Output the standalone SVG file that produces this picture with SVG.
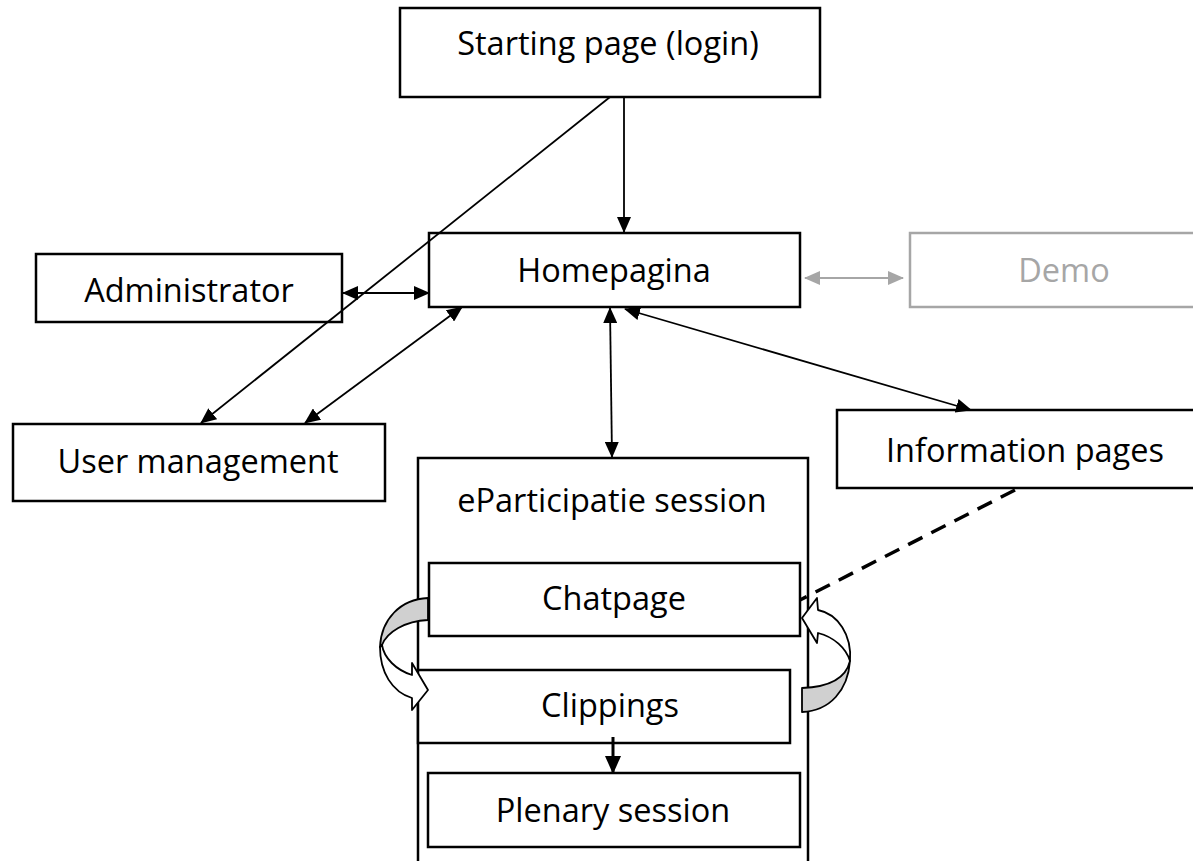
<svg xmlns="http://www.w3.org/2000/svg" width="1193" height="861" viewBox="0 0 1193 861">
<defs>
<marker id="ah" markerUnits="userSpaceOnUse" markerWidth="16" markerHeight="14" refX="15" refY="7" orient="auto-start-reverse"><path d="M0,0 L16,7 L0,14 Z" fill="#000"/></marker>
<marker id="ahg" markerUnits="userSpaceOnUse" markerWidth="16" markerHeight="14" refX="15" refY="7" orient="auto-start-reverse"><path d="M0,0 L16,7 L0,14 Z" fill="#a6a6a6"/></marker>
<marker id="ahb" markerUnits="userSpaceOnUse" markerWidth="18" markerHeight="16" refX="17" refY="8" orient="auto"><path d="M0,0 L18,8 L0,16 Z" fill="#000"/></marker>
</defs>
<style>
.box{fill:#fff;stroke:#000;stroke-width:2.5}
.t{font-family:"Open Sans","Liberation Sans",sans-serif;font-size:32.5px;text-anchor:middle;fill:#000}
.c{stroke:#000;stroke-width:1.8;fill:none}
</style>
<g id="session">
<rect class="box" x="418" y="458" width="390" height="420"/>
<text class="t" x="612" y="512">eParticipatie session</text>
</g>
<g id="starting"><rect class="box" x="400" y="8" width="420" height="89"/><text class="t" x="608" y="55">Starting page (login)</text></g>
<g id="homepagina"><rect class="box" x="429" y="233" width="371" height="74"/><text class="t" x="614" y="282">Homepagina</text></g>
<g id="demo"><rect x="910" y="233" width="300" height="74" fill="#fff" stroke="#a6a6a6" stroke-width="2.5"/><text class="t" x="1064" y="282" style="fill:#a6a6a6">Demo</text></g>
<g id="administrator"><rect class="box" x="36" y="254" width="306" height="68"/><text class="t" x="189" y="302">Administrator</text></g>
<g id="usermanagement"><rect class="box" x="13" y="424" width="372" height="77"/><text class="t" x="198" y="473">User management</text></g>
<g id="information"><rect class="box" x="837" y="410" width="370" height="78"/><text class="t" x="1025" y="462">Information pages</text></g>
<g id="chatpage"><rect class="box" x="429" y="563" width="371" height="73"/><text class="t" x="614" y="610">Chatpage</text></g>
<g id="clippings"><rect class="box" x="418" y="670" width="372" height="73"/><text class="t" x="610" y="717">Clippings</text></g>
<g id="plenary"><rect class="box" x="428" y="773" width="372" height="74"/><text class="t" x="613" y="822">Plenary session</text></g>
<g id="connectors">
<line class="c" x1="624" y1="97" x2="624" y2="232" marker-end="url(#ah)"/>
<line class="c" x1="610" y1="97" x2="201" y2="423" marker-end="url(#ah)"/>
<line class="c" x1="462" y1="307" x2="305" y2="423" marker-start="url(#ah)" marker-end="url(#ah)"/>
<line class="c" x1="343" y1="293" x2="429" y2="293" marker-start="url(#ah)" marker-end="url(#ah)"/>
<line x1="805" y1="278" x2="903" y2="278" stroke="#a6a6a6" stroke-width="2" marker-start="url(#ahg)" marker-end="url(#ahg)"/>
<line class="c" x1="610" y1="308" x2="612" y2="457" marker-start="url(#ah)" marker-end="url(#ah)"/>
<line class="c" x1="625" y1="309" x2="971" y2="410" marker-start="url(#ah)" marker-end="url(#ah)"/>
<line x1="1015" y1="490" x2="800" y2="600" stroke="#000" stroke-width="3.5" stroke-dasharray="16,10"/>
<line x1="613" y1="737" x2="613" y2="773" stroke="#000" stroke-width="3" marker-end="url(#ahb)"/>
<path d="M428,598 C400,599 381,620 380,647 L382,645 C387,632 405,621 428,620 Z" fill="#d0d0d0" stroke="#000" stroke-width="1.8" stroke-linejoin="round"/>
<path d="M380,647 C380,672 392,692 412,698 L412,710 L428,690 L412,663 L412,675 C396,670 384,658 382,645 Z" fill="#fff" stroke="#000" stroke-width="1.8" stroke-linejoin="round"/>
<path d="M802,688 C830,687 846,678 850,661 C848,690 830,711 802,712 Z" fill="#d0d0d0" stroke="#000" stroke-width="1.8" stroke-linejoin="round"/>
<path d="M850,661 C852,635 838,614 818,610 L817,598 L802,618 L817,643 L818,633 C834,637 846,648 850,661 Z" fill="#fff" stroke="#000" stroke-width="1.8" stroke-linejoin="round"/>
</g>
</svg>
